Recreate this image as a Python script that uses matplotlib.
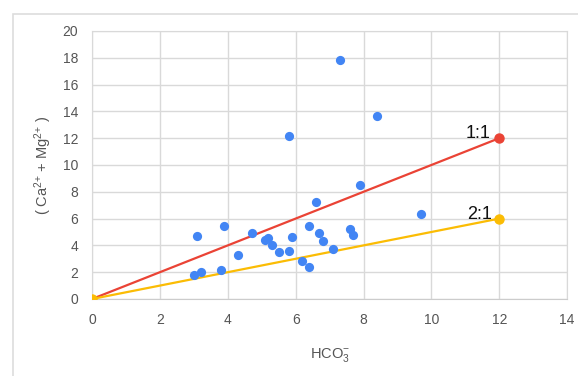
import matplotlib
matplotlib.use('Agg')
import matplotlib.pyplot as plt
from matplotlib.patches import Rectangle

plt.rcParams['mathtext.fontset'] = 'custom'
plt.rcParams['mathtext.rm'] = 'Liberation Sans'
plt.rcParams['mathtext.it'] = 'Liberation Sans:italic'
plt.rcParams['mathtext.default'] = 'regular'

# muestras
hco3 = [3.0, 3.2, 3.1, 3.8, 3.9, 4.3, 4.7, 5.1, 5.2, 5.3, 5.5, 5.8, 5.9, 5.8,
        6.2, 6.4, 6.4, 6.6, 6.7, 6.8, 7.1, 7.3, 7.6, 7.7, 7.9, 8.4, 9.7]
ca_mg = [1.8, 2.05, 4.7, 2.15, 5.45, 3.3, 4.9, 4.4, 4.55, 4.0, 3.5, 3.55, 4.65, 12.2,
         2.85, 2.4, 5.45, 7.25, 4.9, 4.3, 3.7, 17.8, 5.2, 4.8, 8.5, 13.65, 6.35]

# linhas de referencia
linha_x = [0, 12]
linha_11 = [0, 12]
linha_21 = [0, 6]

azul = '#4285F4'
vermelho = '#EA4335'
amarelo = '#FBBC04'
cinza = '#555555'

fig = plt.figure(figsize=(5.78, 3.76), dpi=100)
fig.patches.append(Rectangle((0.0225, -0.1), 1.2, 1.063, transform=fig.transFigure,
                             fill=False, edgecolor='#dddddd', linewidth=1.2))

ax = fig.add_axes([0.1592, 0.2048, 0.822, 0.7128])

ax.plot(linha_x, linha_11, color=vermelho, lw=1.6, zorder=3)
ax.plot(linha_x, linha_21, color=amarelo, lw=1.6, zorder=3)
ax.plot(linha_x[-1], linha_11[-1], 'o', color=vermelho, ms=6.5, zorder=4)
ax.plot(linha_x, linha_21, 'o', color=amarelo, ms=6.5, lw=0, zorder=4)
ax.scatter(hco3, ca_mg, s=44, color=azul, zorder=5, linewidths=0)

ax.annotate('1:1', (linha_x[-1], linha_11[-1]), xytext=(-6, 0), textcoords='offset points',
            ha='right', va='baseline', fontsize=13, color='#111111', family='Liberation Sans')
ax.annotate('2:1', (linha_x[-1], linha_21[-1]), xytext=(-5, 0), textcoords='offset points',
            ha='right', va='baseline', fontsize=13, color='#111111', family='Liberation Sans')

ax.set_xlim(0, 14)
ax.set_ylim(0, 20)
ax.set_xticks(range(0, 15, 2))
ax.set_yticks(range(0, 21, 2))
ax.grid(True, color='#d9d9d9', lw=1)
ax.set_axisbelow(True)
for s in ax.spines.values():
    s.set_color('#d9d9d9')
ax.spines['bottom'].set_color('#cccccc')
ax.tick_params(length=0, labelsize=10, labelcolor=cinza, pad=10)
for lab in ax.get_xticklabels() + ax.get_yticklabels():
    lab.set_family('Liberation Sans')

ax.set_xlabel('HCO$_{3}^{-}$', fontsize=10.5, color=cinza, family='Liberation Sans', labelpad=14)
ax.set_ylabel('( Ca$^{2{+}}$ + Mg$^{2{+}}$ )', fontsize=10.5, color=cinza,
              family='Liberation Sans', labelpad=6)

fig.savefig('out.png', dpi=100)
